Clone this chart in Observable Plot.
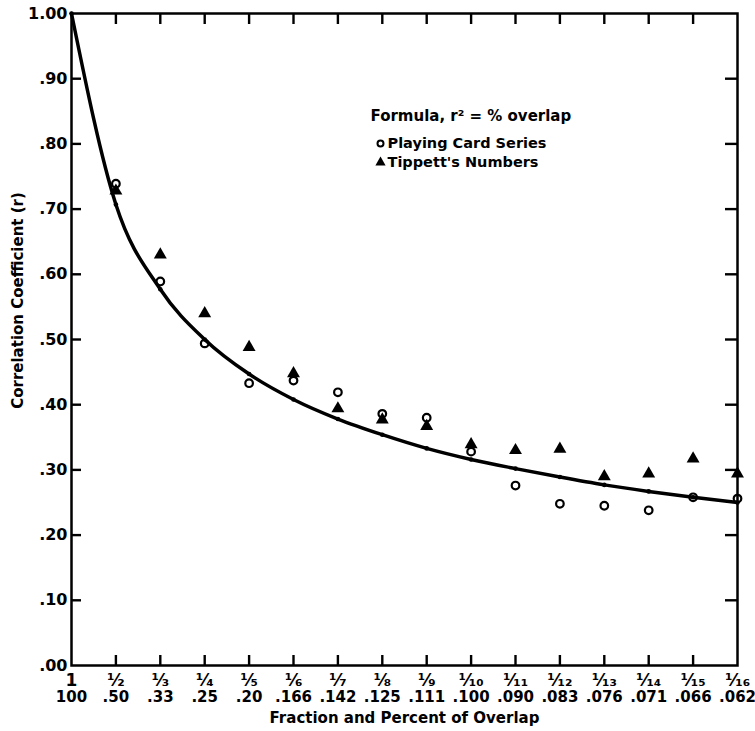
<!DOCTYPE html>
<html>
<head>
<meta charset="utf-8">
<script src="https://cdn.jsdelivr.net/npm/d3@7"></script>
<script src="https://cdn.jsdelivr.net/npm/@observablehq/plot@0.6"></script>
<style>
  html, body { margin: 0; padding: 0; background: white; }
</style>
</head>
<body>
<div id="chart"></div>
<script>
// Overlap denominators (fraction 1/n)
const n = [1, 2, 3, 4, 5, 6, 7, 8, 9, 10, 11, 12, 13, 14, 15, 16];
const fractionLabels = ["1", "¹⁄₂", "¹⁄₃", "¹⁄₄", "¹⁄₅", "¹⁄₆", "¹⁄₇", "¹⁄₈", "¹⁄₉", "¹⁄₁₀", "¹⁄₁₁", "¹⁄₁₂", "¹⁄₁₃", "¹⁄₁₄", "¹⁄₁₅", "¹⁄₁₆"];
const percentLabels = ["100", ".50", ".33", ".25", ".20", ".166", ".142", ".125", ".111", ".100", ".090", ".083", ".076", ".071", ".066", ".062"];
// Theoretical curve, r² = % overlap (values read at each n)
const curveR = [1.000, 0.707, 0.577, 0.500, 0.447, 0.408, 0.378, 0.354, 0.333, 0.316, 0.302, 0.289, 0.277, 0.267, 0.258, 0.250];
// Playing Card Series (open circles)
const playingN = [2, 3, 4, 5, 6, 7, 8, 9, 10, 11, 12, 13, 14, 15, 16];
const playingR = [0.739, 0.589, 0.494, 0.433, 0.437, 0.419, 0.386, 0.380, 0.328, 0.276, 0.248, 0.245, 0.238, 0.258, 0.256];
// Tippett's Numbers (filled triangles)
const tippettN = [2, 3, 4, 5, 6, 7, 8, 9, 10, 11, 12, 13, 14, 15, 16];
const tippettR = [0.728, 0.630, 0.540, 0.488, 0.448, 0.394, 0.377, 0.367, 0.339, 0.330, 0.332, 0.290, 0.294, 0.317, 0.294];
// Y axis ticks
const yTicks = [0, 0.1, 0.2, 0.3, 0.4, 0.5, 0.6, 0.7, 0.8, 0.9, 1.0];

const curve = n.map((x, i) => ({x, r: curveR[i]}));
const playing = playingN.map((x, i) => ({x, r: playingR[i]}));
const tippett = tippettN.map((x, i) => ({x, r: tippettR[i]}));
const xLabels = n.map((x, i) => ({x, frac: fractionLabels[i], pct: percentLabels[i]}));

const fmtY = d => d === 1 ? "1.00" : d3.format(".2f")(d).replace(/^0/, "");

const W = 755, H = 731, ML = 71, MR = 18, MT = 13, MB = 66;
const frameW = W - ML - MR, frameH = H - MT - MB;

const chart = Plot.plot({
  width: W,
  height: H,
  marginLeft: ML,
  marginRight: MR,
  marginTop: MT,
  marginBottom: MB,
  x: {domain: [n[0], n[n.length - 1]], axis: null},
  y: {domain: [0, 1], axis: null},
  style: {fontFamily: "'DejaVu Sans', sans-serif", fontWeight: "bold", color: "black", background: "white"},
  marks: [
    // y tick labels
    Plot.text(yTicks, {y: d => d, frameAnchor: "left", dx: -4, textAnchor: "end", lineAnchor: "middle", text: fmtY, fontSize: 16}),
    // x tick labels (two rows)
    Plot.text(xLabels, {x: "x", frameAnchor: "bottom", dy: 15, lineAnchor: "middle", text: "frac", fontSize: 17}),
    Plot.text(xLabels, {x: "x", frameAnchor: "bottom", dy: 32, lineAnchor: "middle", text: "pct", fontSize: 15}),
    // axis titles
    Plot.text(["Fraction and Percent of Overlap"], {frameAnchor: "bottom", dy: 53, lineAnchor: "middle", textAnchor: "middle", fontSize: 15}),
    Plot.text(["Correlation Coefficient (r)"], {frameAnchor: "left", dx: -53, dy: -39, rotate: -90, textAnchor: "middle", lineAnchor: "middle", fontSize: 15}),
    // theoretical curve
    Plot.line(curve, {x: "x", y: "r", curve: "monotone-x", stroke: "black", strokeWidth: 3.5}),
    Plot.dot(curve, {x: "x", y: "r", r: 2.3, fill: "black"}),
    // observed series
    Plot.dot(playing, {x: "x", y: "r", r: 3.8, stroke: "black", strokeWidth: 2.2, fill: "none"}),
    Plot.dot(tippett, {x: "x", y: "r", symbol: "triangle", r: 4.8, fill: "black", stroke: "none"}),
    // legend
    Plot.text(["Formula, r² = % overlap"], {frameAnchor: "top-left", dx: 299, dy: 103, textAnchor: "start", lineAnchor: "middle", fontSize: 15}),
    Plot.dot([0], {frameAnchor: "top-left", dx: 309, dy: 130, r: 3, stroke: "black", strokeWidth: 2, fill: "none"}),
    Plot.text(["Playing Card Series"], {frameAnchor: "top-left", dx: 316, dy: 130, textAnchor: "start", lineAnchor: "middle", fontSize: 14.5}),
    Plot.dot([0], {frameAnchor: "top-left", dx: 309, dy: 149, symbol: "triangle", r: 3.8, fill: "black", stroke: "none"}),
    Plot.text(["Tippett's Numbers"], {frameAnchor: "top-left", dx: 316, dy: 149, textAnchor: "start", lineAnchor: "middle", fontSize: 14.5}),
    // frame and inner tick marks (drawn last)
    Plot.frame({stroke: "black", strokeWidth: 2.5}),
    Plot.tickY(yTicks.slice(1, 10), {y: d => d, insetRight: frameW - 10, stroke: "#000", strokeWidth: 2.4}),
    Plot.tickY(yTicks.slice(1, 10), {y: d => d, insetLeft: frameW - 12, stroke: "#000", strokeWidth: 2.4}),
    Plot.tickX(n.slice(1, 15), {x: d => d, insetBottom: frameH - 11, stroke: "#000", strokeWidth: 2.4}),
    Plot.tickX(n.slice(1, 15), {x: d => d, insetTop: frameH - 10, stroke: "#000", strokeWidth: 2.4})
  ]
});
document.getElementById("chart").appendChild(chart);
</script>
</body>
</html>
